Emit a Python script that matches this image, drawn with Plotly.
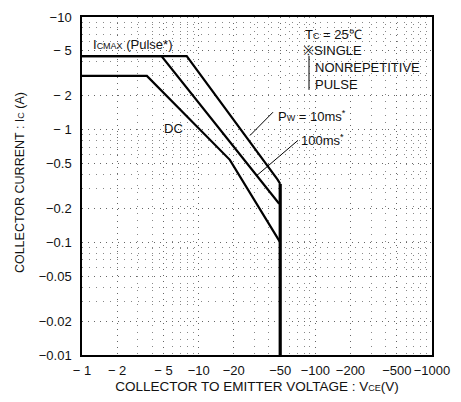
import plotly.graph_objects as go

# ---- data (absolute values; axis labels show the PNP negative sign) ----
dc_v = [1, 3.6, 18.5, 50]
dc_i = [3.0, 3.0, 0.54, 0.1]

ms100_v = [1, 4.8, 49]
ms100_i = [4.5, 4.5, 0.22]

ms10_v = [1, 7.9, 47.5, 50]
ms10_i = [4.5, 4.5, 0.36, 0.33]

vceo_v = [50, 50]
vceo_i = [0.33, 0.01]

x_ticks = [1, 2, 5, 10, 20, 50, 100, 200, 500, 1000]
x_labels = ["− 1", "− 2", "− 5", "−10", "−20", "−50", "−100", "−200", "−500", "−1000"]
y_ticks = [10, 5, 2, 1, 0.5, 0.2, 0.1, 0.05, 0.02, 0.01]
y_labels = ["−10", "− 5", "− 2", "− 1", "−0.5", "−0.2", "−0.1", "−0.05", "−0.02", "−0.01"]

x_minor = [3, 4, 6, 7, 8, 9, 30, 40, 60, 70, 80, 90, 300, 400, 600, 700, 800, 900]
y_minor = [0.03, 0.04, 0.06, 0.07, 0.08, 0.09, 0.3, 0.4, 0.6, 0.7, 0.8, 0.9, 3, 4, 6, 7, 8, 9]

FONT = "Liberation Sans Narrow, Liberation Sans, Arial, sans-serif"
SM = "<span style='font-size:9px'>%s</span>"

fig = go.Figure()
line = dict(color="black", width=2.2)
fig.add_trace(go.Scatter(x=dc_v, y=dc_i, mode="lines", line=line, showlegend=False))
fig.add_trace(go.Scatter(x=ms100_v, y=ms100_i, mode="lines", line=line, showlegend=False))
fig.add_trace(go.Scatter(x=ms10_v, y=ms10_i, mode="lines", line=line, showlegend=False))
fig.add_trace(go.Scatter(x=vceo_v, y=vceo_i, mode="lines", line=dict(color="black", width=3.2), showlegend=False))

grid = dict(gridcolor="#666", gridwidth=1, griddash="1px,5px")

fig.update_xaxes(
    type="log", range=[0, 3], tickvals=x_ticks, ticktext=x_labels,
    showgrid=True, **grid,
    minor=dict(tickvals=x_minor, showgrid=True, gridcolor="#888", gridwidth=1, griddash="1px,6px"),
    showline=True, linecolor="black", linewidth=1.5, mirror=True,
    ticks="", ticklabelstandoff=3, zeroline=False,
    tickfont=dict(family=FONT, size=13, color="#111"),
    title=dict(text="COLLECTOR TO EMITTER VOLTAGE : V" + SM % "CE" + "(V)",
               font=dict(family=FONT, size=13.5, color="#111"), standoff=4),
)
fig.update_yaxes(
    type="log", range=[-2, 1], tickvals=y_ticks, ticktext=y_labels,
    showgrid=True, **grid,
    minor=dict(tickvals=y_minor, showgrid=True, gridcolor="#888", gridwidth=1, griddash="1px,6px"),
    showline=True, linecolor="black", linewidth=1.5, mirror=True,
    ticks="", ticklabelstandoff=6, zeroline=False,
    tickfont=dict(family=FONT, size=13, color="#111"),
)

def px2paper(px, py):
    return (px - 82) / 350.0, (358 - py) / 348.0

# y axis title placed as rotated annotation
yx, yy = px2paper(20, 181)
fig.add_annotation(text="COLLECTOR CURRENT : I" + SM % "C" + " (A)", x=yx, y=yy,
                   xref="paper", yref="paper", textangle=-90, showarrow=False,
                   xanchor="center", yanchor="middle",
                   font=dict(family=FONT, size=12.5, color="#111"))

ann_font = dict(family=FONT, size=13, color="#111")
texts = [
    ("I" + SM % "CMAX" + " (Pulse*)", 91, 38),
    ("T" + SM % "C" + " = 25℃", 303, 28),
    ("※SINGLE", 301, 45),
    ("NONREPETITIVE", 313, 62),
    ("PULSE", 313, 80),
    ("P" + SM % "W" + " = 10ms<sup>*</sup>", 276, 112),
    ("100ms<sup>*</sup>", 299, 137),
    ("DC", 162, 125),
]
for t, px, py in texts:
    x, y = px2paper(px, py)
    fig.add_annotation(text=t, x=x, y=y, xref="paper", yref="paper", xanchor="left",
                       yanchor="middle", showarrow=False, font=ann_font)

segs = [((273, 108), (250, 132)), ((298, 137), (257, 173)), ((309, 50), (309, 85))]
for (a, b) in segs:
    x0, y0 = px2paper(*a)
    x1, y1 = px2paper(*b)
    fig.add_shape(type="line", x0=x0, y0=y0, x1=x1, y1=y1, xref="paper", yref="paper",
                  line=dict(color="black", width=1))

fig.update_layout(
    width=461, height=402, margin=dict(l=82, r=29, t=10, b=44),
    plot_bgcolor="white", paper_bgcolor="white",
)
fig.write_html("out.html")
